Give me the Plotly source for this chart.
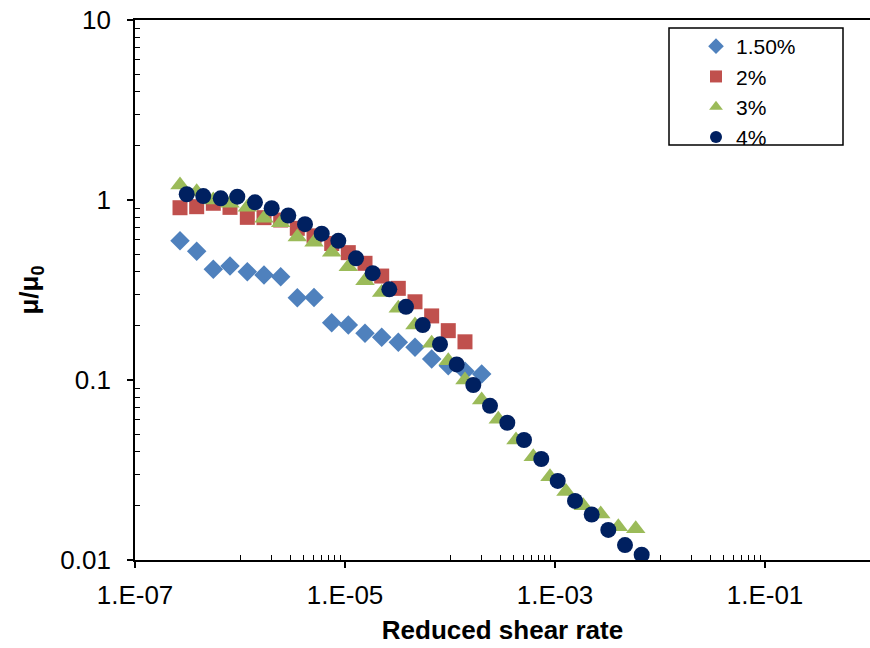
import plotly.graph_objects as go

# ---- data ----
x_main = [2.683e-7, 3.868e-7, 5.567e-7, 8.03e-7, 1.174e-6, 1.693e-6, 2.441e-6, 3.513e-6,
          5.07e-6, 7.47e-6, 1.075e-5, 1.551e-5, 2.236e-5, 3.218e-5, 4.642e-5, 6.69e-5,
          9.63e-5, 1.389e-4, 2.003e-4, 2.884e-4, 4.25e-4, 6.21e-4, 8.96e-4, 1.273e-3,
          1.86e-3, 2.724e-3, 4.007e-3, 5.87e-3]

x_150 = x_main[:19]
y_150 = [0.594, 0.519, 0.412, 0.430, 0.400, 0.383, 0.375, 0.286, 0.287, 0.208,
         0.202, 0.182, 0.173, 0.162, 0.152, 0.131, 0.120, 0.112, 0.108]

x_2 = x_main[:18]
y_2 = [0.906, 0.918, 0.959, 0.910, 0.801, 0.798, 0.774, 0.696, 0.632, 0.573,
       0.510, 0.445, 0.378, 0.323, 0.272, 0.227, 0.188, 0.163]

x_3 = x_main
y_3 = [1.211, 1.112, 1.000, 0.958, 0.910, 0.791, 0.748, 0.623, 0.583, 0.513,
       0.426, 0.356, 0.306, 0.250, 0.202, 0.160, 0.128, 0.100, 0.0774, 0.0605,
       0.0464, 0.0375, 0.0290, 0.0240, 0.0200, 0.0180, 0.0153, 0.0149]

x_4 = [3.108e-7, 4.47e-7, 6.55e-7, 9.43e-7, 1.389e-6, 2.003e-6, 2.884e-6, 4.16e-6,
       6.0e-6, 8.64e-6, 1.273e-5, 1.835e-5, 2.642e-5, 3.81e-5, 5.50e-5, 8.03e-5,
       1.158e-4, 1.667e-4, 2.404e-4, 3.513e-4, 5.07e-4, 7.40e-4, 1.061e-3, 1.551e-3,
       2.236e-3, 3.218e-3, 4.642e-3, 6.69e-3]
y_4 = [1.076, 1.052, 1.022, 1.043, 0.971, 0.900, 0.820, 0.734, 0.650, 0.593,
       0.474, 0.392, 0.319, 0.255, 0.202, 0.158, 0.122, 0.0938, 0.0719, 0.0579,
       0.0464, 0.0364, 0.0275, 0.0213, 0.0179, 0.0147, 0.0121, 0.0107]

series_names = ["1.50%", "2%", "3%", "4%"]
x_tickvals = [1e-7, 1e-5, 1e-3, 1e-1]
x_ticktext = ["1.E-07", "1.E-05", "1.E-03", "1.E-01"]
y_tickvals = [0.01, 0.1, 1, 10]
y_ticktext = ["0.01", "0.1", "1", "10"]

# minor tick positions
x_minor = [k * 10.0 ** e for e in (-6, -4, -2) for k in range(1, 10)]
y_minor = [k * 10.0 ** e for e in (-2, -1, 0) for k in range(2, 10)]

FONT = "Liberation Sans, Arial, sans-serif"

fig = go.Figure()
specs = [
    (x_150, y_150, "diamond", "#4F81BD", 15),
    (x_2, y_2, "square", "#C0504D", 15),
    (x_3, y_3, "triangle-up", "#9BBB59", 17),
    (x_4, y_4, "circle", "#002060", 16),
]
for (xs, ys, sym, col, sz), nm in zip(specs, series_names):
    fig.add_trace(go.Scatter(x=xs, y=ys, mode="markers", name=nm,
                             marker=dict(symbol=sym, color=col, size=sz, line=dict(width=0))))

axis_common = dict(showgrid=False, zeroline=False, showline=True, linecolor="black",
                   linewidth=1.8, ticks="outside", ticklen=6, tickwidth=1.5,
                   tickcolor="black", tickfont=dict(family=FONT, size=26, color="black"))

fig.update_xaxes(type="log", range=[-7, 0], tickmode="array", tickvals=x_tickvals,
                 ticktext=x_ticktext, mirror=True, ticklabelstandoff=5,
                 minor=dict(tickmode="array", tickvals=x_minor, ticks="inside",
                            ticklen=5, tickwidth=1.2, tickcolor="black", showgrid=False),
                 title=dict(text="Reduced shear rate", standoff=12,
                            font=dict(family=FONT, size=26, color="black", weight="bold")),
                 **axis_common)
fig.update_yaxes(type="log", range=[-2, 1], tickmode="array", tickvals=y_tickvals,
                 ticktext=y_ticktext, ticklabelstandoff=11,
                 minor=dict(tickmode="array", tickvals=y_minor, ticks="inside",
                            ticklen=5, tickwidth=1.2, tickcolor="black", showgrid=False),
                 title=dict(text="μ/μ<sub>0</sub>", standoff=14,
                            font=dict(family=FONT, size=26, color="black", weight="bold")),
                 **axis_common)

# legend box
fig.add_shape(type="rect", xref="paper", yref="paper",
              x0=(669 - 135) / 735, x1=(843 - 135) / 735,
              y0=1 - (145 - 20) / 540, y1=1 - (28 - 20) / 540,
              line=dict(color="black", width=1.5), fillcolor="rgba(0,0,0,0)")

fig.update_layout(
    width=870, height=648,
    margin=dict(l=135, r=0, t=20, b=88),
    paper_bgcolor="white", plot_bgcolor="white",
    font=dict(family=FONT, color="black"),
    legend=dict(x=(696 - 135) / 735, y=1 - (26 - 20) / 540, xanchor="left", yanchor="top",
                bgcolor="rgba(0,0,0,0)", borderwidth=0, itemsizing="constant",
                font=dict(family=FONT, size=21, color="black"), tracegroupgap=0),
    showlegend=True,
)

fig.write_html("out.html")
